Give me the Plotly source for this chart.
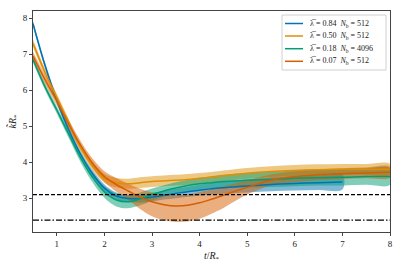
import plotly.graph_objects as go

# ---- data ----
t_grid = [0.5, 0.75, 1.0, 1.25, 1.5, 1.75, 2.0, 2.25, 2.5, 2.75, 3.0, 3.25, 3.5, 3.75,
          4.0, 4.25, 4.5, 5.0, 5.5, 6.0, 6.5, 7.0, 7.5, 8.0]

blue_t = t_grid[:22]
blue_v = [7.85, 6.7, 5.72, 4.9, 4.22, 3.68, 3.28, 3.06, 2.99, 2.99, 3.03, 3.08, 3.13, 3.18,
          3.22, 3.26, 3.29, 3.34, 3.38, 3.41, 3.43, 3.45]
blue_err = [0.08, 0.08, 0.08, 0.09, 0.09, 0.1, 0.1, 0.1, 0.1, 0.11, 0.12, 0.12, 0.13, 0.14,
            0.15, 0.16, 0.17, 0.18, 0.19, 0.2, 0.2, 0.21]

yel_v = [7.3, 6.5, 5.8, 5.1, 4.4, 3.9, 3.55, 3.43, 3.4, 3.43, 3.46, 3.48, 3.5, 3.52,
         3.55, 3.58, 3.62, 3.69, 3.74, 3.77, 3.79, 3.8, 3.8, 3.8]
yel_err = [0.1, 0.1, 0.1, 0.1, 0.1, 0.11, 0.12, 0.13, 0.14, 0.15, 0.15, 0.15, 0.15, 0.15,
           0.15, 0.15, 0.15, 0.15, 0.15, 0.15, 0.15, 0.15, 0.15, 0.15]

grn_v = [6.85, 6.1, 5.45, 4.78, 4.12, 3.58, 3.17, 2.95, 2.9, 2.98, 3.1, 3.2, 3.28, 3.35,
         3.4, 3.43, 3.46, 3.5, 3.52, 3.55, 3.57, 3.58, 3.6, 3.6]
grn_err = [0.08, 0.09, 0.1, 0.11, 0.12, 0.14, 0.16, 0.18, 0.18, 0.18, 0.17, 0.16, 0.16, 0.16,
           0.17, 0.18, 0.19, 0.2, 0.21, 0.22, 0.22, 0.23, 0.23, 0.23]

org_v = [6.95, 6.3, 5.7, 5.05, 4.47, 3.97, 3.6, 3.38, 3.2, 3.03, 2.9, 2.82, 2.78, 2.8,
         2.87, 2.97, 3.08, 3.3, 3.5, 3.6, 3.65, 3.68, 3.7, 3.72]
org_err_lo = [0.12, 0.12, 0.12, 0.12, 0.12, 0.13, 0.15, 0.2, 0.25, 0.33, 0.4, 0.43, 0.44, 0.45,
              0.44, 0.4, 0.35, 0.2, 0.15, 0.15, 0.15, 0.15, 0.15, 0.15]
org_err_hi = [0.12, 0.12, 0.12, 0.12, 0.12, 0.13, 0.15, 0.18, 0.2, 0.23, 0.26, 0.28, 0.3, 0.3,
              0.3, 0.28, 0.25, 0.2, 0.16, 0.15, 0.15, 0.15, 0.15, 0.15]

labels = ["λ̅ = 0.84  <i>N</i><sub>b</sub> = 512",
          "λ̅ = 0.50  <i>N</i><sub>b</sub> = 512",
          "λ̅ = 0.18  <i>N</i><sub>b</sub> = 4096",
          "λ̅ = 0.07  <i>N</i><sub>b</sub> = 512"]
colors = ["#0173B2", "#DE8F05", "#029E73", "#D55E00"]
fills = ["rgba(1,115,178,0.5)", "rgba(222,143,5,0.5)", "rgba(2,158,115,0.5)", "rgba(213,94,0,0.5)"]

x_ticks = [1, 2, 3, 4, 5, 6, 7, 8]
y_ticks = [3, 4, 5, 6, 7, 8]

hline_dash = 3.1
hline_dashdot = 2.39

series = [
    (blue_t, blue_v, blue_err, blue_err),
    (t_grid, yel_v, yel_err, yel_err),
    (t_grid, grn_v, grn_err, grn_err),
    (t_grid, org_v, org_err_lo, org_err_hi),
]

W, H = 403, 269
L, R, T, B = 33, 13, 11, 37
PW, PH = W - L - R, H - T - B


def px2paper(px, py):
    return (px - L) / PW, (H - B - py) / PH


fig = go.Figure()
for i, (tt, vv, elo, ehi) in enumerate(series):
    lo = [v - e for v, e in zip(vv, elo)]
    hi = [v + e for v, e in zip(vv, ehi)]
    fig.add_trace(go.Scatter(x=tt + tt[::-1], y=hi + lo[::-1], fill="toself",
                             fillcolor=fills[i], line=dict(width=0, shape="spline"),
                             mode="lines", showlegend=False, hoverinfo="skip"))
for i, (tt, vv, elo, ehi) in enumerate(series):
    fig.add_trace(go.Scatter(x=tt, y=vv, mode="lines", name=labels[i], showlegend=False,
                             line=dict(color=colors[i], width=1.5, shape="spline")))

fig.add_hline(y=hline_dash, line=dict(color="black", width=1.3, dash="4px,2px"))
fig.add_hline(y=hline_dashdot, line=dict(color="black", width=1.3, dash="6px,2px,1.5px,2px"))

font = "Liberation Serif, DejaVu Serif, serif"

# custom compact legend (matplotlib style)
x0, y0 = px2paper(282, 15)
x1, y1 = px2paper(386, 70)
fig.add_shape(type="rect", xref="paper", yref="paper", x0=x0, x1=x1, y0=y1, y1=y0,
              line=dict(color="#d0d0d0", width=1), fillcolor="rgba(255,255,255,0.85)",
              layer="above")
row_y = [23.5, 36, 48.7, 61.3]
for i, ry in enumerate(row_y):
    lx0, ly = px2paper(285, ry)
    lx1, _ = px2paper(303, ry)
    fig.add_shape(type="line", xref="paper", yref="paper", x0=lx0, x1=lx1, y0=ly, y1=ly,
                  line=dict(color=colors[i], width=1.5), layer="above")
    tx, _ = px2paper(308, ry)
    fig.add_annotation(xref="paper", yref="paper", x=tx, y=ly, text=labels[i],
                       showarrow=False, xanchor="left", yanchor="middle",
                       font=dict(size=8, family=font, color="#222"))

fig.update_layout(
    width=W, height=H,
    margin=dict(l=L, r=R, t=T, b=B, autoexpand=False),
    plot_bgcolor="white", paper_bgcolor="white",
    font=dict(family=font, size=10, color="#222"),
    showlegend=False,
)
fig.update_xaxes(range=[0.5, 8.0001], tickvals=x_ticks, showgrid=False, automargin=False,
                 zeroline=False, showline=True, linecolor="#444", linewidth=1, mirror=True,
                 ticks="outside", ticklen=3, tickcolor="#444", tickfont=dict(size=9),
                 title=dict(text="<i>t</i>/<i>R</i><sub>*</sub>", standoff=4, font=dict(size=10)))
fig.update_yaxes(range=[2.06, 8.2], tickvals=y_ticks, showgrid=False, automargin=False,
                 zeroline=False, showline=True, linecolor="#444", linewidth=1, mirror=True,
                 ticks="outside", ticklen=3, tickcolor="#444", tickfont=dict(size=9),
                 title=dict(text="<i>k̃R</i><sub>*</sub>", standoff=4, font=dict(size=10)))

fig.write_html("out.html", config={"displayModeBar": False},
               post_script="document.body.style.margin='0px';")
